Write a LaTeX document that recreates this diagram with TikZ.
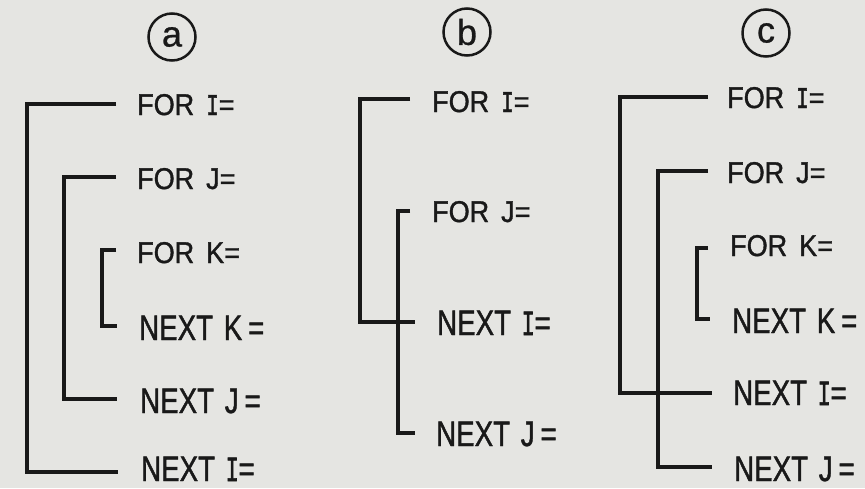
\documentclass[tikz,border=0pt]{standalone}
\usepackage{fontspec}
\setmainfont{Liberation Sans}
\newfontfamily\forfont[FakeStretch=0.9,FakeBold=1.2,WordSpace=1.6]{Liberation Sans}
\newfontfamily\nextfont[FakeStretch=0.78,FakeBold=1.2,WordSpace=1.4]{Liberation Sans}
\newfontfamily\forI[FakeStretch=0.7,FakeBold=1.6]{Liberation Mono}
\newfontfamily\nextI[FakeStretch=0.6,FakeBold=1.6]{Liberation Mono}
\newfontfamily\lblfont[FakeBold=0.8]{Liberation Sans}
\definecolor{paper}{RGB}{229,229,226}
\definecolor{ink}{RGB}{25,25,25}
\begin{document}
\begin{tikzpicture}[x=1pt,y=-1pt,
  br/.style={draw=ink, line width=3.5pt, line cap=butt, line join=miter},
  fortxt/.style={anchor=base west, inner sep=0pt, text=ink, font=\forfont\fontsize{30}{30}\selectfont},
  nexttxt/.style={anchor=base west, inner sep=0pt, text=ink, font=\nextfont\fontsize{35.5}{35.5}\selectfont},
  lbl/.style={circle, draw=ink, line width=2.5pt, minimum size=47pt, inner sep=0pt, text=ink, font=\lblfont\fontsize{36}{36}\selectfont}]
\fill[paper] (0,0) rectangle (865,488);
\useasboundingbox (0,0) rectangle (865,488);

% ---------- panel a ----------
\node[lbl] (la) at (172,37) {a};
\node[fortxt] (aFI) at (137,115) {FOR {\forI I}=};
\node[fortxt] (aFJ) at (137,189) {FOR J=};
\node[fortxt] (aFK) at (137,263) {FOR K=};
\node[nexttxt] (aNK) at (139,340) {NEXT K\,=};
\node[nexttxt] (aNJ) at (140,413) {NEXT J\,=};
\node[nexttxt] (aNI) at (141,481) {NEXT {\nextI I}=};
\coordinate (aFIe) at (116,104); \coordinate (aI1) at (27,104);
\coordinate (aI2) at (27,472);   \coordinate (aNIe) at (118,472);
\coordinate (aFJe) at (116,177); \coordinate (aJ1) at (64,177);
\coordinate (aJ2) at (64,399);   \coordinate (aNJe) at (117,399);
\coordinate (aFKe) at (116,250); \coordinate (aK1) at (102,250);
\coordinate (aK2) at (102,326);  \coordinate (aNKe) at (117,326);
\draw[br] (aFIe) -- (aI1) -- (aI2) -- (aNIe);
\draw[br] (aFJe) -- (aJ1) -- (aJ2) -- (aNJe);
\draw[br] (aFKe) -- (aK1) -- (aK2) -- (aNKe);

% ---------- panel b ----------
\node[lbl] (lb) at (467,32) {b};
\node[fortxt] (bFI) at (432,112) {FOR {\forI I}=};
\node[fortxt] (bFJ) at (432,222) {FOR J=};
\node[nexttxt] (bNI) at (437,335) {NEXT {\nextI I}=};
\node[nexttxt] (bNJ) at (436,446) {NEXT J\,=};
\coordinate (bFIe) at (410,99);  \coordinate (bI1) at (360,99);
\coordinate (bI2) at (360,322);  \coordinate (bNIe) at (415,322);
\coordinate (bFJe) at (410,211); \coordinate (bJ1) at (398,211);
\coordinate (bJ2) at (398,433);  \coordinate (bNJe) at (415,433);
\draw[br] (bFIe) -- (bI1) -- (bI2) -- (bNIe);
\draw[br] (bFJe) -- (bJ1) -- (bJ2) -- (bNJe);

% ---------- panel c ----------
\node[lbl] (lc) at (766,33) {c};
\node[fortxt] (cFI) at (727,108) {FOR {\forI I}=};
\node[fortxt] (cFJ) at (727,183) {FOR J=};
\node[fortxt] (cFK) at (730,256) {FOR K=};
\node[nexttxt] (cNK) at (732,333) {NEXT K\,=};
\node[nexttxt] (cNI) at (733,405) {NEXT {\nextI I}=};
\node[nexttxt] (cNJ) at (734,481) {NEXT J\,=};
\coordinate (cFIe) at (708,97);  \coordinate (cI1) at (620,97);
\coordinate (cI2) at (620,393);  \coordinate (cNIe) at (712,393);
\coordinate (cFJe) at (708,171); \coordinate (cJ1) at (658,171);
\coordinate (cJ2) at (658,467);  \coordinate (cNJe) at (712,467);
\coordinate (cFKe) at (708,248); \coordinate (cK1) at (697,248);
\coordinate (cK2) at (697,319);  \coordinate (cNKe) at (710,319);
\draw[br] (cFIe) -- (cI1) -- (cI2) -- (cNIe);
\draw[br] (cFJe) -- (cJ1) -- (cJ2) -- (cNJe);
\draw[br] (cFKe) -- (cK1) -- (cK2) -- (cNKe);
\end{tikzpicture}
\end{document}
